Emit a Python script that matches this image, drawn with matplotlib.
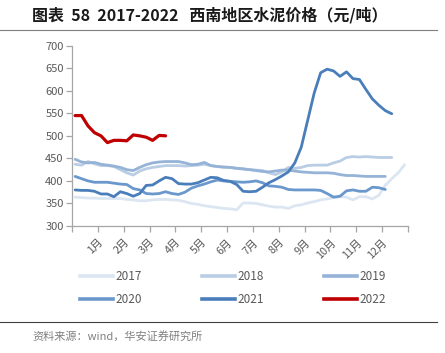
import matplotlib
matplotlib.use('Agg')
import matplotlib.pyplot as plt
from matplotlib.lines import Line2D

plt.rcParams['font.family'] = ['Noto Sans CJK SC', 'DejaVu Sans']

# weekly cement prices, yuan/ton
years = ['2017', '2018', '2019', '2020', '2021', '2022']
p2017 = [364, 363, 362, 362, 361, 361, 361, 361, 359, 358, 356, 356, 358, 359, 359, 358,
         357, 354, 350, 348, 345, 343, 341, 339, 338, 336, 351, 351, 350, 347, 344, 342,
         342, 339, 345, 347, 351, 354, 358, 360, 363, 365, 364, 358, 365, 365, 360, 368,
         390, 405, 418, 436]
p2018 = [437, 435, 443, 438, 434, 434, 432, 425, 418, 413, 422, 427, 430, 432, 434, 434,
         434, 433, 434, 435, 437, 434, 432, 430, 430, 428, 426, 425, 424, 423, 418, 414,
         420, 430, 428, 430, 434, 435, 435, 435, 440, 444, 452, 454, 453, 454, 453, 452,
         452, 452]
p2019 = [448, 442, 440, 441, 437, 435, 433, 430, 425, 423, 430, 436, 440, 442, 443, 443,
         443, 440, 436, 437, 441, 434, 432, 431, 430, 428, 427, 425, 423, 421, 420, 422,
         424, 424, 422, 420, 419, 418, 418, 418, 417, 414, 412, 412, 411, 410, 410, 410,
         410]
p2020 = [410, 405, 400, 397, 397, 397, 395, 393, 392, 383, 380, 372, 371, 372, 376, 372,
         370, 375, 384, 389, 393, 398, 402, 400, 399, 398, 397, 398, 400, 396, 389, 388,
         386, 381, 380, 380, 380, 380, 379, 372, 364, 366, 378, 380, 377, 377, 386, 385,
         381]
p2021 = [380, 379, 379, 377, 371, 371, 365, 376, 372, 366, 372, 390, 391, 400, 408, 405,
         394, 393, 393, 396, 402, 408, 407, 401, 399, 392, 377, 376, 377, 386, 396, 403,
         411, 420, 440, 475, 535, 595, 640, 648, 644, 632, 642, 627, 625, 603, 582, 568,
         556, 549]
p2022 = [545, 545, 522, 507, 500, 485, 490, 490, 489, 502, 500, 497, 490, 501, 500]
series = [p2017, p2018, p2019, p2020, p2021, p2022]
colors = ['#dce6f2', '#b9cde5', '#95b3d7', '#6b98cc', '#4a7ebb', '#c00000']
months = [f'{m}月' for m in range(1, 13)]

fig = plt.figure(figsize=(4.45, 3.53), dpi=100)
ax = fig.add_axes([0.1618, 0.3598, 0.7551, 0.5107])

for vals, c in zip(series, colors):
    xs = [0.12 + 0.25 * i for i in range(len(vals))]
    lw = 2.3 if c == '#c00000' else 2.0
    ax.plot(xs, vals, color=c, lw=lw, solid_capstyle='round')

ax.set_xlim(0, 13)
ax.set_ylim(300, 700)
ax.set_yticks(range(300, 701, 50))
ax.set_xticks(range(0, 14))
ax.set_xticklabels([''] + months + [''], rotation=45, ha='right', va='top',
                   rotation_mode='anchor')
for s in ['top', 'right']:
    ax.spines[s].set_visible(False)
for s in ['left', 'bottom']:
    ax.spines[s].set_color('#a6a6a6')
    ax.spines[s].set_linewidth(0.9)
ax.tick_params(axis='both', colors='#a6a6a6', labelcolor='#595959', labelsize=7.8,
               length=4, width=0.9)
ax.tick_params(axis='y', labelsize=8, pad=2)
ax.tick_params(axis='x', pad=4)

handles = [Line2D([], [], color=c, lw=2.6) for c in colors]
order = [0, 3, 1, 4, 2, 5]
fig.legend([handles[i] for i in order], [years[i] for i in order],
           loc='center', bbox_to_anchor=(0.524, 0.184), ncol=3, frameon=False,
           fontsize=8.5, handlelength=2.8, columnspacing=5.1, handletextpad=0.2,
           labelspacing=0.8, labelcolor='#595959')

fig.text(0.072, 0.957, '图表  58  2017-2022   西南地区水泥价格（元/吨）', fontsize=11.5,
         fontweight='bold', va='center', ha='left', color='#1a1a1a')
fig.add_artist(Line2D([0, 0.982], [0.916, 0.916], color='#7f7f7f', lw=0.8))
fig.add_artist(Line2D([0, 0.982], [0.088, 0.088], color='#404040', lw=0.8))
fig.text(0.072, 0.048, '资料来源：wind，华安证券研究所', fontsize=8, color='#7f7f7f',
         va='center', ha='left')

fig.savefig('out.png', dpi=100)
